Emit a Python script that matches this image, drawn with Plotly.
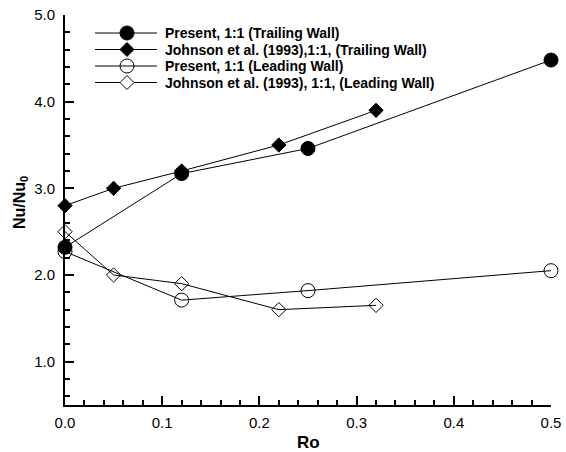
import plotly.graph_objects as go

# Nusselt number ratio vs rotation number, square (1:1) channel
ro_present = [0.0, 0.12, 0.25, 0.5]
nu_present_trailing = [2.32, 3.17, 3.46, 4.48]
nu_present_leading = [2.27, 1.71, 1.82, 2.05]

ro_johnson = [0.0, 0.05, 0.12, 0.22, 0.32]
nu_johnson_trailing = [2.80, 3.00, 3.20, 3.50, 3.90]
nu_johnson_leading = [2.50, 2.00, 1.90, 1.60, 1.65]

series_names = [
    "Present, 1:1 (Trailing Wall)",
    "Johnson et al. (1993),1:1, (Trailing Wall)",
    "Present, 1:1 (Leading Wall)",
    "Johnson et al. (1993), 1:1, (Leading Wall)",
]
series_x = [ro_present, ro_johnson, ro_present, ro_johnson]
series_y = [nu_present_trailing, nu_johnson_trailing, nu_present_leading, nu_johnson_leading]
symbols = ["circle", "diamond", "circle-open", "diamond-open"]
sizes = [14, 11, 14, 11]

X_RANGE = [0.0, 0.5]
Y_RANGE = [0.5, 5.0]

W, H = 566, 452
ML, MR, MT, MB = 65, 15, 15, 47
PW, PH = W - ML - MR, H - MT - MB

FONT = "Liberation Sans, Arial, sans-serif"


def px_x(px):
    """Pixel column -> paper fraction."""
    return (px - ML) / PW


def px_y(py):
    """Pixel row -> paper fraction."""
    return (H - MB - py) / PH


fig = go.Figure()

for name, xs, ys, sym, sz in zip(series_names, series_x, series_y, symbols, sizes):
    fig.add_trace(go.Scatter(
        x=xs, y=ys, mode="lines+markers", name=name, showlegend=False,
        line=dict(color="black", width=1),
        marker=dict(symbol=sym, size=sz, color="black",
                    line=dict(color="black", width=1)),
        cliponaxis=False,
    ))

shapes = []

# Legend block: sample line, symbol and label per series
leg_rows = [33, 49.5, 66, 82.5]
for name, sym, py in zip(series_names, symbols, leg_rows):
    yy = px_y(py)
    shapes.append(dict(type="line", xref="paper", yref="paper",
                       x0=px_x(95), x1=px_x(157), y0=yy, y1=yy, opacity=1,
                       line=dict(color="black", width=1)))
    filled = not sym.endswith("open")
    if sym.startswith("circle"):
        shapes.append(dict(type="circle", xref="paper", yref="paper",
                           xsizemode="pixel", ysizemode="pixel",
                           xanchor=px_x(127), yanchor=yy,
                           x0=-7, x1=7, y0=-7, y1=7, opacity=1,
                           fillcolor="black" if filled else "rgba(0,0,0,0)",
                           line=dict(color="black", width=1)))
    else:
        shapes.append(dict(type="path", xref="paper", yref="paper",
                           xsizemode="pixel", ysizemode="pixel",
                           xanchor=px_x(127), yanchor=yy,
                           path="M -7 0 L 0 7 L 7 0 L 0 -7 Z", opacity=1,
                           fillcolor="black" if filled else "white",
                           line=dict(color="black", width=1)))
    fig.add_annotation(
        x=px_x(163), y=yy, xref="paper", yref="paper", text=f"<b>{name}</b>",
        showarrow=False, xanchor="left", yanchor="middle",
        font=dict(family=FONT, size=14, color="black"),
    )

# Axis titles
fig.add_annotation(
    x=0.5, y=px_y(442), xref="paper", yref="paper",
    text="<b>Ro</b>", showarrow=False, xanchor="center", yanchor="middle",
    font=dict(family=FONT, size=17, color="black"),
)
fig.add_annotation(
    x=px_x(21), y=px_y(203), xref="paper", yref="paper",
    text="<b>Nu/Nu<sub>0</sub></b>", textangle=-90, showarrow=False,
    xanchor="center", yanchor="middle",
    font=dict(family=FONT, size=16, color="black"),
)

tick_font = dict(family=FONT, size=15, color="black")
fig.update_layout(
    template="simple_white",
    width=W, height=H,
    margin=dict(l=ML, r=MR, t=MT, b=MB, autoexpand=False),
    paper_bgcolor="white", plot_bgcolor="white",
    showlegend=False,
    shapes=shapes,
    xaxis=dict(
        range=X_RANGE, dtick=0.1, tick0=0, tickformat=".1f",
        ticks="inside", ticklen=9, tickwidth=2, tickcolor="black",
        minor=dict(dtick=0.02, ticks="inside", ticklen=5, tickcolor="black", tickwidth=2),
        showline=True, linecolor="black", linewidth=2, showgrid=False, zeroline=False,
        tickfont=tick_font, ticklabelstandoff=3, automargin=False,
    ),
    yaxis=dict(
        range=Y_RANGE, dtick=1, tick0=0, tickformat=".1f",
        ticks="inside", ticklen=9, tickwidth=2, tickcolor="black",
        minor=dict(dtick=0.2, ticks="inside", ticklen=5, tickcolor="black", tickwidth=2),
        showline=True, linecolor="black", linewidth=2, showgrid=False, zeroline=False,
        tickfont=tick_font, ticklabelstandoff=5, automargin=False,
    ),
)

fig.write_html("out.html")
